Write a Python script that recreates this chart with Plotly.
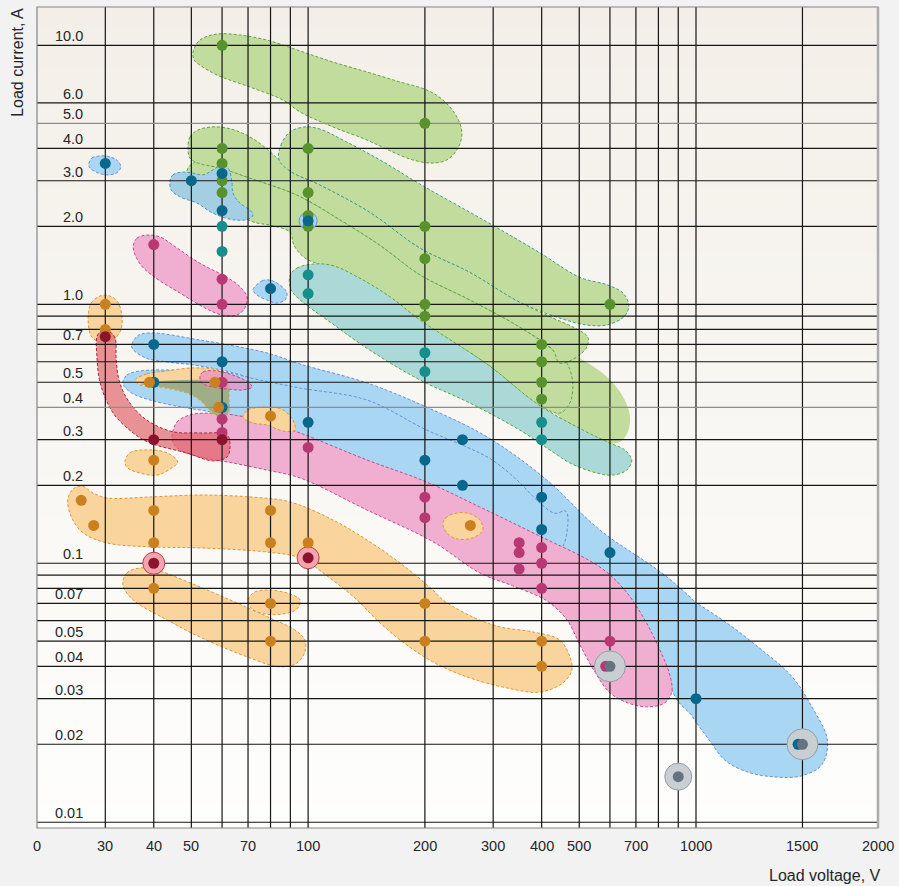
import math
import plotly.graph_objects as go

# axis extents: load voltage (V) and load current (A)
V_LEFT, V_BREAK, V_RIGHT = 20, 1000, 2000
I_LOW, I_HIGH = 0.0095, 14.06

# ---- measured points, by colour ----
GREEN_V = [60, 60, 60, 60, 60, 100, 100, 100, 100, 200, 200, 200, 200, 200, 400, 400, 400, 400, 600]
GREEN_I = [10, 4.0, 3.5, 3.0, 2.7, 4.0, 2.7, 2.2, 2.0, 5.0, 2.0, 1.5, 1.0, 0.9, 0.7, 0.6, 0.5, 0.43, 1.0]

TEAL_V = [60, 60, 100, 100, 200, 200, 400, 400]
TEAL_I = [2.0, 1.6, 1.3, 1.1, 0.65, 0.55, 0.35, 0.3]

BLUE_V = [30, 50, 60, 60, 80, 100, 40, 60, 40, 60, 100, 250, 200, 250, 400, 400, 600, 1000, 1475]
BLUE_I = [3.5, 3.0, 3.2, 2.3, 1.15, 2.1, 0.7, 0.6, 0.5, 0.4, 0.35, 0.3, 0.25, 0.2, 0.18, 0.135, 0.11, 0.03, 0.02]

MAGENTA_V = [40, 60, 60, 60, 60, 60, 100, 200, 200, 350, 350, 350, 400, 400, 400, 600, 585]
MAGENTA_I = [1.7, 1.25, 1.0, 0.5, 0.36, 0.32, 0.28, 0.18, 0.15, 0.12, 0.11, 0.095, 0.115, 0.1, 0.08, 0.05, 0.04]

ORANGE_V = [30, 30, 39, 57.5, 58.8, 80, 40, 26, 28, 40, 40, 80, 80, 100, 262, 40, 80, 80, 200, 200, 400, 400]
ORANGE_I = [1.0, 0.8, 0.5, 0.5, 0.4, 0.37, 0.25, 0.175, 0.14, 0.16, 0.12, 0.16, 0.12, 0.12, 0.14, 0.08, 0.07, 0.05, 0.07, 0.05, 0.05, 0.04]

DARKRED_V = [30, 40, 60, 40, 100]
DARKRED_I = [0.75, 0.3, 0.3, 0.1, 0.105]

GRAY_V = [600, 900, 1500]
GRAY_I = [0.04, 0.015, 0.02]

PINK_RING_V = [40, 100]
PINK_RING_I = [0.1, 0.105]
BLUE_RING_V = [100]
BLUE_RING_I = [2.1]

# ---- outlined regions (V, A) ----
G1_V = [50.5, 52.6, 58.2, 66.7, 78.3, 95.3, 115.9, 141.8, 172.5, 202.4, 222.6, 241.9, 249.2, 243.3, 227.9, 208.6, 186.2, 165.4, 141.8, 115.9, 95.3, 86.1, 70.8, 58.2, 52.6, 50.8]
G1_I = [9.42, 10.48, 11.05, 10.96, 10.48, 9.51, 8.62, 7.89, 7.22, 6.72, 6.15, 5.29, 4.59, 4.01, 3.61, 3.51, 3.61, 3.87, 4.31, 4.84, 5.53, 6.15, 6.90, 7.68, 8.39, 8.78]

G3_V = [84.1, 85.1, 89.8, 98.1, 107.2, 124.3, 153.2, 194.3, 289, 396, 502, 589, 648, 671, 655, 589, 523, 445, 351, 261, 194.3, 144, 107.2, 89.8]
G3_I = [3.61, 4.12, 4.63, 4.84, 4.75, 4.27, 3.61, 2.91, 2.08, 1.58, 1.27, 1.19, 1.106, 0.994, 0.901, 0.832, 0.832, 0.885, 1.02, 1.33, 1.65, 2.27, 2.89, 3.27]

GA_V = [49.0, 49.6, 52.0, 56.5, 61.8, 67.5, 74.3, 84.1, 89.8, 107.2, 144, 194.3, 261, 351, 427.6, 487, 526, 523, 493, 445, 427.6, 351, 261, 194.3, 153.2, 120.8, 93.6, 70.8, 59.2, 52.0, 49.6]
GA_I = [4.01, 4.43, 4.71, 4.84, 4.79, 4.59, 4.23, 3.61, 3.27, 2.89, 2.27, 1.65, 1.33, 1.02, 0.885, 0.81, 0.748, 0.684, 0.626, 0.593, 0.666, 0.817, 1.04, 1.30, 1.69, 2.12, 2.64, 3.07, 3.36, 3.51, 3.67]

GB_V = [50.5, 59.2, 70.8, 93.6, 120.8, 153.2, 194.3, 261, 351, 427.6, 464.5, 481, 473, 445, 393, 289, 194.3, 162.5, 136, 113.8, 98.1, 91.9, 89.8, 79.7, 72.1, 59.2, 50.2, 48.4]
GB_I = [3.51, 3.36, 3.07, 2.64, 2.12, 1.69, 1.30, 1.04, 0.817, 0.666, 0.593, 0.497, 0.416, 0.38, 0.409, 0.588, 0.855, 1.04, 1.22, 1.38, 1.51, 1.69, 1.90, 2.02, 2.08, 2.46, 2.84, 3.16]

GC_V = [396, 487, 582, 644, 675, 667, 636, 565, 487, 433, 408, 396]
GC_I = [0.761, 0.637, 0.533, 0.447, 0.374, 0.321, 0.294, 0.291, 0.327, 0.384, 0.447, 0.557]

T1_V = [89.8, 93.6, 102.9, 115.9, 136, 162.5, 194.3, 289, 393, 523, 600, 655, 683, 663, 610, 555, 473, 427.6, 351, 261, 194.3, 144, 113.8, 95.3, 90.3]
T1_I = [1.29, 1.38, 1.43, 1.41, 1.26, 1.07, 0.87, 0.588, 0.409, 0.321, 0.291, 0.274, 0.25, 0.229, 0.219, 0.223, 0.244, 0.269, 0.327, 0.416, 0.51, 0.666, 0.855, 1.04, 1.14]

B1_V = [27.2, 27.7, 29.1, 30.8, 32.3, 32.9, 32.0, 30.1, 28.4, 27.4]
B1_I = [3.48, 3.67, 3.74, 3.71, 3.58, 3.39, 3.21, 3.16, 3.24, 3.36]

B2_V = [44.0, 44.8, 47.3, 50.5, 53.6, 56.8, 60.0, 62.2, 63.6, 64.0, 66.7, 70.8, 72.1, 70.0, 64.0, 56.8, 51.7, 46.7, 44.4]
B2_I = [2.97, 3.16, 3.24, 3.21, 3.16, 3.30, 3.45, 3.36, 2.97, 2.69, 2.46, 2.31, 2.21, 2.13, 2.12, 2.25, 2.46, 2.60, 2.76]

B3_V = [72.1, 76.0, 79.7, 84.6, 88.2, 87.2, 83.1, 78.3, 73.8]
B3_I = [1.136, 1.23, 1.24, 1.187, 1.106, 1.039, 1.012, 1.039, 1.086]

B5_MAIN_V = [35.1, 36.3, 39.1, 52.6, 78.3, 95.3, 141.8, 202, 290, 412, 565, 841, 1088, 1284, 1115, 1051, 981, 893, 831, 760, 675, 565, 420, 312, 232, 173, 128, 95.3, 70.8, 52.6, 43.3, 38.1]
B5_MAIN_I = [0.684, 0.7545, 0.775, 0.728, 0.649, 0.588, 0.497, 0.401, 0.307, 0.21, 0.1345, 0.0886, 0.062, 0.0463, 0.0174, 0.0208, 0.0255, 0.0297, 0.038, 0.0506, 0.0632, 0.0788, 0.1076, 0.137, 0.176, 0.229, 0.299, 0.4085, 0.519, 0.578, 0.599, 0.621]
B5_TIP_V = [565, 841, 1088, 1284, 1443, 1559, 1649, 1616, 1495, 1331, 1210, 1115, 1051, 981, 893, 831]
B5_TIP_I = [0.1345, 0.0886, 0.062, 0.0463, 0.0364, 0.0276, 0.0208, 0.0167, 0.0151, 0.015, 0.0157, 0.0174, 0.0208, 0.0255, 0.0297, 0.038]

B6_V = [33.3, 34.1, 36.9, 46.7, 58.2, 75.1, 95.3, 141.8, 202, 256.6, 299, 345, 395.8, 432.6, 461.6, 467.2, 445, 373, 277, 206, 153.2, 113.8, 84.6, 66.7, 58.2, 47.3, 39.1, 34.7]
B6_I = [0.497, 0.533, 0.553, 0.557, 0.553, 0.51, 0.475, 0.427, 0.327, 0.281, 0.25, 0.21, 0.171, 0.156, 0.159, 0.141, 0.1125, 0.123, 0.154, 0.1803, 0.213, 0.262, 0.321, 0.357, 0.38, 0.401, 0.427, 0.459]

P1_V = [35.4, 36.2, 38.4, 41.5, 45.9, 52.6, 61.8, 66.7, 69.5, 68.7, 65.6, 60.0, 54.2, 46.7, 40.3, 36.9]
P1_I = [1.664, 1.80, 1.85, 1.82, 1.65, 1.44, 1.27, 1.17, 1.07, 0.968, 0.909, 0.909, 0.968, 1.106, 1.27, 1.43]

P2_V = [44.6, 45.9, 49.6, 54.9, 64.0, 78.3, 95.3, 141.8, 202, 277, 380, 565, 655, 738, 807, 856, 866, 831, 751, 667, 600, 549, 502, 465, 413, 337, 277, 210, 141.8, 95.3, 78.3, 64.0, 52.6, 46.7]
P2_I = [0.299, 0.351, 0.374, 0.38, 0.374, 0.351, 0.3185, 0.2505, 0.206, 0.165, 0.131, 0.0967, 0.0788, 0.0604, 0.0463, 0.037, 0.0318, 0.0289, 0.0279, 0.0289, 0.0316, 0.038, 0.0484, 0.0604, 0.0715, 0.0818, 0.0918, 0.121, 0.1606, 0.2135, 0.229, 0.2439, 0.2573, 0.274]

P3_V = [52.6, 53.6, 58.2, 64.0, 70.0, 71.7, 67.9, 61.8, 56.8, 53.2]
P3_I = [0.524, 0.548, 0.553, 0.533, 0.501, 0.479, 0.467, 0.471, 0.479, 0.497]

R1_V = [28.55, 29.1, 30.8, 31.8, 32.0, 32.7, 34.7, 38.4, 44.8, 52.6, 61.8, 62.9, 61.8, 56.8, 48.7, 39.1, 35.4, 31.4, 29.1, 28.55]
R1_I = [0.748, 0.782, 0.782, 0.741, 0.61, 0.497, 0.416, 0.357, 0.322, 0.3185, 0.313, 0.281, 0.2573, 0.2485, 0.2665, 0.2915, 0.3185, 0.381, 0.497, 0.626]

O1_V = [27.1, 27.6, 29.1, 30.8, 32.3, 33.1, 32.9, 31.4, 29.1, 27.6]
O1_I = [0.885, 1.012, 1.077, 1.077, 1.02, 0.901, 0.796, 0.728, 0.715, 0.754]

O2_V = [35.8, 38.4, 43.3, 50.5, 58.2, 61.8, 62.5, 62.2, 59.2, 55.8, 52.6, 48.7, 41.5, 36.9]
O2_I = [0.51, 0.538, 0.553, 0.568, 0.557, 0.519, 0.427, 0.38, 0.367, 0.391, 0.427, 0.454, 0.479, 0.488]

OLIVE_V = [36.9, 41.5, 49.6, 57.5, 61.8, 62.5, 62.2, 59.2, 55.8, 52.6, 48.7, 41.5]
OLIVE_I = [0.492, 0.506, 0.51, 0.51, 0.506, 0.427, 0.38, 0.367, 0.391, 0.427, 0.455, 0.48]

O3_V = [67.9, 70.0, 78.3, 86.1, 91.4, 92.4, 86.1, 78.3, 72.1]
O3_I = [0.367, 0.391, 0.401, 0.391, 0.357, 0.327, 0.324, 0.342, 0.348]

O4_V = [33.7, 34.7, 38.4, 43.3, 46.1, 44.8, 40.8, 36.9, 34.3]
O4_I = [0.246, 0.267, 0.274, 0.267, 0.246, 0.235, 0.219, 0.223, 0.233]

O5_V = [24.0, 24.8, 26.1, 27.9, 30.3, 39.1, 52.6, 70.8, 89.8, 115.9, 141.8, 172.5, 209.7, 222.6, 265.9, 312, 379.8, 445, 473, 478.7, 453.6, 395.8, 325.4, 256.6, 209.7, 172.5, 150.4, 133.6, 113.8, 95.3, 78.3, 52.6, 39.1, 30.3, 26.3, 24.6]
O5_I = [0.176, 0.1936, 0.1988, 0.1868, 0.1787, 0.1803, 0.1835, 0.1803, 0.1725, 0.147, 0.123, 0.1003, 0.0788, 0.0722, 0.062, 0.0568, 0.0543, 0.0506, 0.0435, 0.0387, 0.0345, 0.0318, 0.033, 0.0364, 0.0416, 0.0506, 0.0604, 0.0722, 0.0877, 0.1048, 0.1105, 0.1146, 0.1157, 0.1198, 0.131, 0.1496]

O6_V = [33.3, 34.1, 36.9, 40.8, 47.6, 62.9, 79.7, 92.4, 98.1, 98.1, 93.6, 84.6, 70.8, 52.6, 43.3, 35.4]
O6_I = [0.0825, 0.0918, 0.0959, 0.094, 0.0862, 0.0722, 0.0615, 0.0553, 0.0506, 0.0455, 0.0412, 0.0398, 0.0431, 0.0519, 0.0604, 0.0722]

O7_V = [70.0, 72.9, 79.7, 89.8, 95.3, 93.6, 86.1, 77.4, 71.7]
O7_I = [0.0722, 0.0775, 0.0788, 0.0761, 0.0722, 0.0666, 0.0637, 0.0637, 0.0666]

O8_V = [222.6, 232, 256.6, 277, 282, 265.9, 241.9, 227.9]
O8_I = [0.1431, 0.1536, 0.1564, 0.147, 0.1345, 0.1253, 0.1242, 0.131]

# ---- grid and tick labels ----
V_GRID = [30, 40, 50, 60, 70, 80, 90, 100, 200, 300, 400, 500, 600, 700, 800, 900, 1000]
V_GRID_HIGH = [1000, 1500]
I_GRID = [10, 6, 4, 3, 2, 1, 0.9, 0.8, 0.7, 0.6, 0.5, 0.3, 0.2, 0.1, 0.09, 0.08, 0.07, 0.06, 0.05, 0.04, 0.03, 0.02, 0.01]
I_GRID_LIGHT = [5, 0.4]

V_TICKS = [20, 30, 40, 50, 70, 100, 200, 300, 400, 500, 700, 1000]
V_TICK_TEXT = ["0", "30", "40", "50", "70", "100", "200", "300", "400", "500", "700", "1000"]
V_TICKS_HIGH = [1500, 2000]
V_TICK_TEXT_HIGH = ["1500", "2000"]
I_TICKS = [10, 6, 5, 4, 3, 2, 1, 0.7, 0.5, 0.4, 0.3, 0.2, 0.1, 0.07, 0.05, 0.04, 0.03, 0.02, 0.01]
I_TICK_TEXT = ["10.0", "6.0", "5.0", "4.0", "3.0", "2.0", "1.0", "0.7", "0.5", "0.4", "0.3",
               "0.2", "0.1", "0.07", "0.05", "0.04", "0.03", "0.02", "0.01"]

# ---- colours ----
GREEN_FILL, GREEN_EDGE, GREEN_DOT = "#c1dc9c", "#5ea53e", "#58922c"
TEAL_FILL, TEAL_EDGE, TEAL_DOT = "#aad9d7", "#3d9f95", "#168e8c"
BLUE_FILL, BLUE_EDGE, BLUE_DOT = "#a8d6f3", "#6c8fd6", "#08688c"
PINK_FILL, PINK_EDGE, PINK_DOT = "#f0afd0", "#c84a86", "#b83874"
ORANGE_FILL, ORANGE_EDGE, ORANGE_DOT = "#f9d49c", "#dc9834", "#ca801e"
RED_FILL, RED_EDGE, RED_DOT = "rgba(222,92,98,0.65)", "#a8283e", "#8a1430"
GRAY_FILL, GRAY_EDGE, GRAY_DOT = "#c9ced3", "#959ea5", "#64737d"
GRID = "#161616"
FONT = "Liberation Sans, Arial, Helvetica, sans-serif"

fig = go.Figure()


def add_region(v, i, fill, edge=None, axis="x"):
    fig.add_trace(go.Scatter(
        x=list(v) + [v[0]], y=list(i) + [i[0]], xaxis=axis, yaxis="y",
        mode="lines", fill="toself", fillcolor=fill,
        line=dict(color=edge if edge else fill, width=1 if edge else 0,
                  dash="3px,2px", shape="spline", smoothing=1),
        hoverinfo="skip", showlegend=False))


def add_lines(xs, ys, color, axis="x", width=1.2):
    fig.add_trace(go.Scatter(x=xs, y=ys, xaxis=axis, yaxis="y", mode="lines",
                             line=dict(color=color, width=width),
                             hoverinfo="skip", showlegend=False))


def add_dots(v, i, color, size=11, edge=None):
    # points at or above the break go on the upper voltage axis, which is drawn on top
    lo = [(a, b) for a, b in zip(v, i) if a < V_BREAK]
    hi = [(a, b) for a, b in zip(v, i) if a >= V_BREAK]
    for pts, axis in ((lo, "x"), (hi, "x2")):
        if not pts:
            continue
        fig.add_trace(go.Scatter(
            x=[p[0] for p in pts], y=[p[1] for p in pts], xaxis=axis, yaxis="y",
            mode="markers", cliponaxis=False,
            marker=dict(size=size, color=color,
                        line=dict(width=1 if edge else 0, color=edge or color)),
            hoverinfo="skip", showlegend=False))


# regions, back to front
add_region(B5_MAIN_V, B5_MAIN_I, BLUE_FILL, BLUE_EDGE)
add_region(B5_TIP_V, B5_TIP_I, BLUE_FILL, BLUE_EDGE, axis="x2")
add_region(B6_V, B6_I, BLUE_FILL, BLUE_EDGE)
add_region(P2_V, P2_I, PINK_FILL, PINK_EDGE)
add_region(O1_V, O1_I, ORANGE_FILL, ORANGE_EDGE)
add_region(R1_V, R1_I, RED_FILL, RED_EDGE)
add_region(GC_V, GC_I, GREEN_FILL)
add_region(GB_V, GB_I, GREEN_FILL, GREEN_EDGE)
add_region(GA_V, GA_I, GREEN_FILL, GREEN_EDGE)
add_region(G3_V, G3_I, GREEN_FILL, TEAL_EDGE)
add_region(G1_V, G1_I, GREEN_FILL, GREEN_EDGE)
add_region(T1_V, T1_I, TEAL_FILL, GREEN_EDGE)
add_region(B2_V, B2_I, "#a4cfe2", "#3d9cc0")
add_region(B1_V, B1_I, BLUE_FILL, BLUE_EDGE)
add_region(B3_V, B3_I, BLUE_FILL, BLUE_EDGE)
add_region(P1_V, P1_I, PINK_FILL, PINK_EDGE)
add_region(O2_V, O2_I, ORANGE_FILL, ORANGE_EDGE)
add_region(OLIVE_V, OLIVE_I, "#9fae87")
add_region(P3_V, P3_I, "rgba(236,140,190,0.7)", PINK_EDGE)
add_region(O3_V, O3_I, ORANGE_FILL, ORANGE_EDGE)
add_region(O4_V, O4_I, ORANGE_FILL, ORANGE_EDGE)
add_region(O5_V, O5_I, ORANGE_FILL, ORANGE_EDGE)
add_region(O6_V, O6_I, ORANGE_FILL, ORANGE_EDGE)
add_region(O7_V, O7_I, ORANGE_FILL, ORANGE_EDGE)
add_region(O8_V, O8_I, ORANGE_FILL, ORANGE_EDGE)

# grid drawn over the shaded regions
for vals, axis in ((V_GRID, "x"), (V_GRID_HIGH, "x2")):
    xs, ys = [], []
    for v in vals:
        xs += [v, v, None]
        ys += [I_LOW, I_HIGH, None]
    add_lines(xs, ys, GRID, axis)
for vals, color in ((I_GRID, GRID), (I_GRID_LIGHT, "#8c8c8c")):
    for axis, x0, x1 in (("x", V_LEFT, V_BREAK), ("x2", V_BREAK, V_RIGHT)):
        xs, ys = [], []
        for c in vals:
            xs += [x0, x1, None]
            ys += [c, c, None]
        add_lines(xs, ys, color, axis)

# rings and points
add_dots(BLUE_RING_V, BLUE_RING_I, "#a9d3ef", size=18, edge="#6f95d8")
add_dots(PINK_RING_V, PINK_RING_I, "#f2a5ae", size=22, edge="#b8404f")
add_dots(GRAY_V[:1], GRAY_I[:1], GRAY_FILL, size=31, edge=GRAY_EDGE)
add_dots(GRAY_V[1:2], GRAY_I[1:2], GRAY_FILL, size=27, edge=GRAY_EDGE)
add_dots(GRAY_V[2:], GRAY_I[2:], GRAY_FILL, size=31, edge=GRAY_EDGE)

add_dots(GREEN_V, GREEN_I, GREEN_DOT)
add_dots(TEAL_V, TEAL_I, TEAL_DOT)
add_dots(BLUE_V, BLUE_I, BLUE_DOT)
add_dots(MAGENTA_V, MAGENTA_I, PINK_DOT)
add_dots(ORANGE_V, ORANGE_I, ORANGE_DOT)
add_dots(DARKRED_V, DARKRED_I, RED_DOT)
add_dots(GRAY_V, GRAY_I, GRAY_DOT)

# ---- labels ----
tick_font = dict(family=FONT, size=14.5, color="#262626")
ann = []
for vals, texts, axis in ((V_TICKS, V_TICK_TEXT, "x"), (V_TICKS_HIGH, V_TICK_TEXT_HIGH, "x2")):
    for v, t in zip(vals, texts):
        ann.append(dict(x=math.log10(v), xref=axis, y=0, yref="paper", yshift=-18,
                        text=t, showarrow=False, font=tick_font,
                        xanchor="center", yanchor="middle"))
for c, t in zip(I_TICKS, I_TICK_TEXT):
    ann.append(dict(x=0.057, xref="paper", y=math.log10(c), yref="y", yshift=9,
                    text=t, showarrow=False, font=tick_font,
                    xanchor="right", yanchor="middle"))
ann.append(dict(x=-0.024, xref="paper", y=0.933, yref="paper", text="Load current, A",
                textangle=-90, showarrow=False, xanchor="center", yanchor="middle",
                font=dict(family=FONT, size=16, color="#262626")))
ann.append(dict(x=1.006, xref="paper", y=-0.058, yref="paper", text="Load voltage, V",
                showarrow=False, xanchor="right", yanchor="middle",
                font=dict(family=FONT, size=16, color="#262626")))

# plot-area background: soft beige fading to white
shapes = []
top, bottom = (243, 239, 232), (254, 254, 253)
n = 40
for k in range(n):
    t = (k + 0.5) / n
    col = tuple(round(a + (b - a) * t) for a, b in zip(top, bottom))
    shapes.append(dict(type="rect", xref="paper", yref="paper", x0=0, x1=1,
                       y0=1 - (k + 1) / n, y1=1 - k / n + 0.002, layer="below",
                       line=dict(width=0), fillcolor="rgb(%d,%d,%d)" % col))
shapes.append(dict(type="rect", xref="paper", yref="paper", x0=0, x1=1, y0=0, y1=1,
                   layer="above", line=dict(color="#858585", width=1.2)))
shapes.append(dict(type="line", xref="paper", yref="paper", x0=1, x1=1, y0=0, y1=1,
                   layer="above", line=dict(color="#ababab", width=2.5)))

split = 659 / 841
# tiny margin below the break so a point sitting exactly on 1000 V is not dropped
edge_pad = 1e-7
axis_common = dict(type="log", showgrid=False, zeroline=False, showticklabels=False,
                   ticks="", showline=False, fixedrange=True)
fig.update_layout(
    width=899, height=886,
    margin=dict(l=37, r=21, t=7, b=58),
    paper_bgcolor="#f2f2f2", plot_bgcolor="#f8f6f2",
    showlegend=False, hovermode=False,
    xaxis=dict(range=[math.log10(V_LEFT), math.log10(V_BREAK)], domain=[0, split], anchor="y", **axis_common),
    xaxis2=dict(range=[math.log10(V_BREAK) - edge_pad, math.log10(V_RIGHT)], domain=[split, 1], anchor="y", **axis_common),
    yaxis=dict(range=[math.log10(I_LOW), math.log10(I_HIGH)], anchor="x", **axis_common),
    annotations=ann, shapes=shapes,
)

# drop the browser's default page margin so the figure sits at the window origin
fig.write_html("out.html", config={"displayModeBar": False},
               post_script="document.body.style.margin='0';")
